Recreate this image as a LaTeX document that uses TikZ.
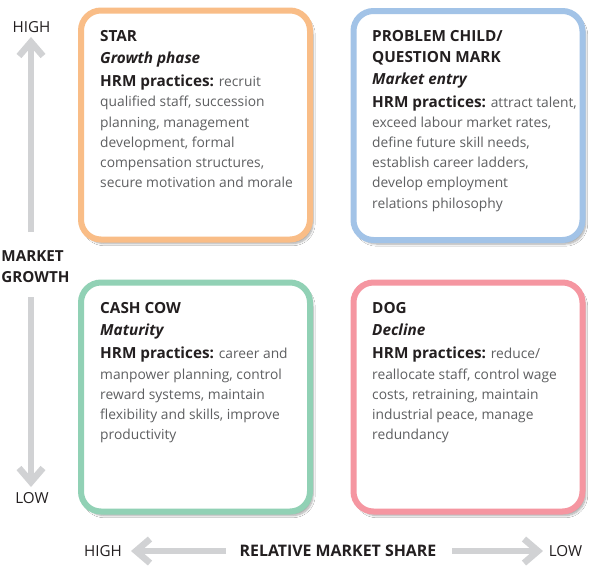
\documentclass[tikz,border=0pt]{standalone}
\usepackage{fontspec}
\setmainfont{Open Sans}
\usetikzlibrary{shadows.blur}
\definecolor{cstar}{HTML}{F9BD87}
\definecolor{cprob}{HTML}{A2C3E7}
\definecolor{ccow}{HTML}{91D1B5}
\definecolor{cdog}{HTML}{F596A1}
\definecolor{axisgray}{HTML}{D1D2D4}
\definecolor{ink}{HTML}{231F20}
\definecolor{body}{HTML}{5E5F61}
\tikzset{
  quad/.style={draw=#1, line width=6pt, rounded corners=20pt, fill=white,
    minimum width=229pt, minimum height=229pt, inner sep=0pt,
    blur shadow={shadow xshift=3pt, shadow yshift=-4pt, shadow opacity=35, shadow blur steps=8, shadow blur extra rounding=2pt}},
  qtext/.style={anchor=north west, align=left, inner sep=0pt, text=body,
    font=\fontsize{13.8}{20.2}\selectfont},
  axis/.style={draw=axisgray, line width=6.5pt},
  chev/.style={draw=axisgray, line width=6.5pt, line join=miter},
  lab/.style={text=ink, font=\fontsize{15.2}{21}\selectfont, inner sep=0pt},
  blab/.style={text=ink, font=\fontsize{15.2}{21}\bfseries\selectfont, inner sep=0pt, align=left},
}
\newcommand{\qt}[1]{{\fontsize{15.3}{20.2}\selectfont\textcolor{ink}{\bfseries #1}}}
\newcommand{\qs}[1]{{\fontsize{15.3}{20.2}\selectfont\textcolor{ink}{\bfseries\itshape #1}}}
\begin{document}
\begin{tikzpicture}[x=1pt,y=-1pt]
\useasboundingbox[fill=white] (0,0) rectangle (600,566);
% boxes
\node[quad=cstar] (star) at (195.5,125) {};
\node[quad=cprob] (prob) at (468,125.5) {};
\node[quad=ccow] (cow) at (195.5,397) {};
\node[quad=cdog] (dog) at (468,397) {};
% texts
\node[qtext] (startext) at (100,30.5) {\qt{STAR}\\[1.8pt]
\qs{Growth phase}\\[2.8pt]
\qt{HRM practices:} recruit\\
qualified staff, succession\\
planning, management\\
development, formal\\
compensation structures,\\
secure motivation and morale};
\node[qtext] (probtext) at (372,30.5) {\qt{PROBLEM CHILD/}\\
\qt{QUESTION MARK}\\[1.8pt]
\qs{Market entry}\\[2.8pt]
\qt{HRM practices:} attract talent,\\
exceed labour market rates,\\
define future skill needs,\\
establish career ladders,\\
develop employment\\
relations philosophy};
\node[qtext] (cowtext) at (100,302.5) {\qt{CASH COW}\\[1.8pt]
\qs{Maturity}\\[2.8pt]
\qt{HRM practices:} career and\\
manpower planning, control\\
reward systems, maintain\\
flexibility and skills, improve\\
productivity};
\node[qtext] (dogtext) at (372,302.5) {\qt{DOG}\\[1.8pt]
\qs{Decline}\\[2.8pt]
\qt{HRM practices:} reduce/\\
reallocate staff, control wage\\
costs, retraining, maintain\\
industrial peace, manage\\
redundancy};
% vertical axis
\node[lab] (vhigh) at (31.5,27) {HIGH};
\node[lab] (vlow) at (32,498) {LOW};
\node[blab] (mg) at (35.5,266.5) {MARKET\\GROWTH};
\coordinate (vt1) at (31,232);
\coordinate (vt2) at (31,43);
\coordinate (vb1) at (31,297);
\coordinate (vb2) at (31,481);
\draw[axis] (vt1) -- (vt2);
\draw[chev] ([xshift=-12pt,yshift=-13pt]vt2) -- ([yshift=1pt]vt2) -- ([xshift=12pt,yshift=-13pt]vt2);
\draw[axis] (vb1) -- (vb2);
\draw[chev] ([xshift=-12pt,yshift=13pt]vb2) -- ([yshift=-1pt]vb2) -- ([xshift=12pt,yshift=13pt]vb2);
% horizontal axis
\node[lab] (hhigh) at (103,551) {HIGH};
\node[lab] (hlow) at (565.5,551) {LOW};
\node[blab, font=\fontsize{15.9}{21}\bfseries\selectfont] (rms) at (338,551) {RELATIVE MARKET SHARE};
\coordinate (hl1) at (226,551);
\coordinate (hl2) at (137,551);
\coordinate (hr1) at (452,551);
\coordinate (hr2) at (537,551);
\draw[axis] (hl1) -- (hl2);
\draw[chev] ([xshift=13pt,yshift=-12pt]hl2) -- ([xshift=-1pt]hl2) -- ([xshift=13pt,yshift=12pt]hl2);
\draw[axis] (hr1) -- (hr2);
\draw[chev] ([xshift=-13pt,yshift=-12pt]hr2) -- ([xshift=1pt]hr2) -- ([xshift=-13pt,yshift=12pt]hr2);
\end{tikzpicture}
\end{document}
